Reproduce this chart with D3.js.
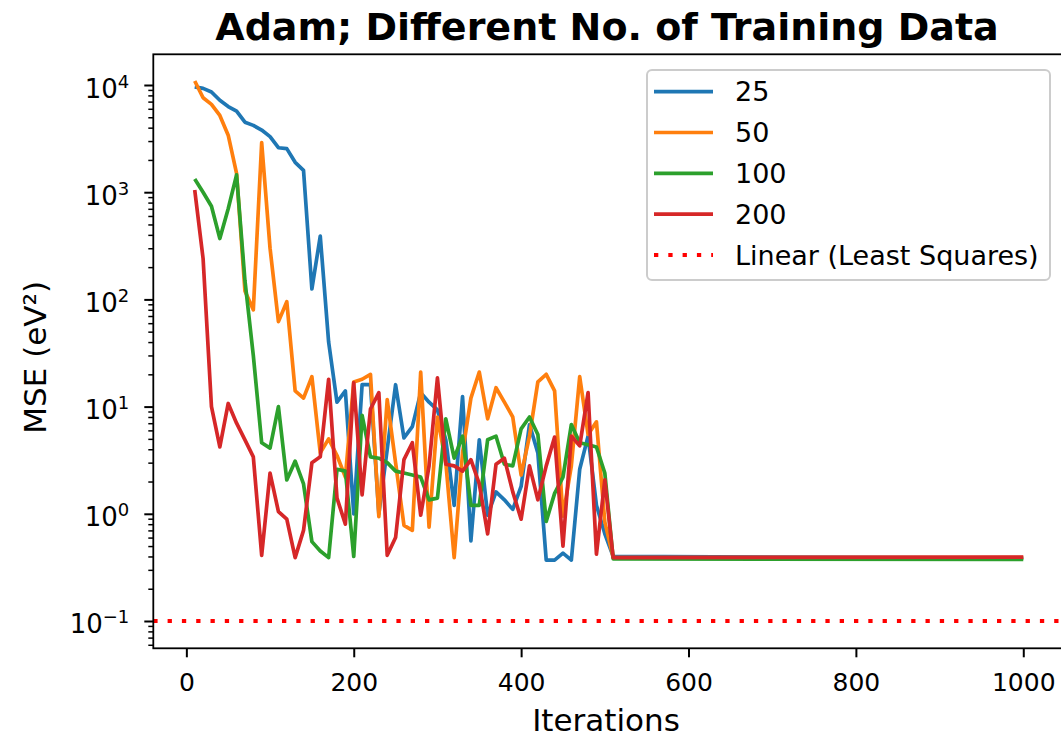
<!DOCTYPE html>
<html>
<head>
<meta charset="utf-8">
<script src="https://cdn.jsdelivr.net/npm/d3@7"></script>
<style>
  body { margin: 0; background: #fff; }
  text { font-family: "DejaVu Sans", sans-serif; fill: #000; }
</style>
</head>
<body>
<div id="chart"></div>
<script>
// iterations sampled every 10 steps; after 510 every run sits flat until 1000
const iterations = [10, 20, 30, 40, 50, 60, 70, 80, 90, 100, 110, 120, 130, 140, 150, 160, 170, 180, 190, 200,
    210, 220, 230, 240, 250, 260, 270, 280, 290, 300, 310, 320, 330, 340, 350, 360, 370, 380, 390, 400,
    410, 420, 430, 440, 450, 460, 470, 480, 490, 500, 510, 1000];

const mse25 = [9600, 9300, 8600, 7200, 6300, 5700, 4500, 4200, 3800, 3300, 2600, 2550, 1900, 1600, 125, 390, 40, 11, 14, 1.0,
    16, 16, 1.0, 4, 16, 5.1, 6.5, 13.5, 11, 9.3, 4.9, 1.2, 12.4, 0.56, 4.9, 0.97, 1.6, 1.35, 1.1, 1.8,
    6.8, 3.7, 0.37, 0.37, 0.43, 0.37, 2.6, 5.3, 1.2, 0.65, 0.4, 0.385];

const mse50 = [10900, 7600, 6600, 5200, 3400, 1500, 120, 80, 2900, 300, 62, 95, 14, 12, 19, 3.7, 5, 3.5, 2.2, 17,
    18, 20, 0.94, 11.6, 3, 0.78, 0.7, 21, 0.75, 8, 3, 0.39, 3.7, 12, 21, 7.7, 15, 11, 8, 2.3,
    5.3, 17, 20, 14, 0.95, 2.8, 19, 5.5, 7.2, 0.84, 0.39, 0.39];

const mse100 = [1330, 1000, 740, 370, 700, 1450, 150, 30, 4.6, 4.1, 10, 2.07, 3.1, 1.9, 0.55, 0.45, 0.39, 2.6, 2.5, 0.4,
    8.3, 3.4, 3.3, 3.0, 2.5, 2.4, 2.3, 2.2, 1.35, 1.4, 7.7, 3.3, 5.3, 1.2, 1.2, 4.9, 5.3, 2.9, 2.8, 6.2,
    8, 5.5, 0.85, 1.55, 2.2, 6.8, 4.6, 4.4, 4.2, 2.4, 0.38, 0.375];

const mse200 = [1050, 240, 10, 4.2, 10.7, 7, 4.9, 3.4, 0.41, 2.4, 1.05, 0.89, 0.39, 0.7, 3.0, 3.4, 18, 1.4, 0.8, 16.7,
    1.5, 9.5, 13.5, 0.41, 0.6, 3.2, 4.6, 0.97, 2.8, 18.5, 2.9, 2.8, 2.5, 3.2, 1.9, 0.65, 2.9, 3.3, 1.6, 0.89,
    2.8, 1.35, 2.8, 5.2, 0.5, 5.3, 4.3, 13.5, 0.42, 2.07, 0.39, 0.395];

const seriesLabels = ["25", "50", "100", "200"];
const seriesColours = ["#1f77b4", "#ff7f0e", "#2ca02c", "#d62728"];
const leastSquaresMse = 0.1;
const leastSquaresLabel = "Linear (Least Squares)";

const xTicks = [0, 200, 400, 600, 800, 1000];
const yTicks = [1e-1, 1e0, 1e1, 1e2, 1e3, 1e4];
const yTickExponents = ["\u22121", "0", "1", "2", "3", "4"];

const series = [mse25, mse50, mse100, mse200];

const width = 1061, height = 740;
const plot = { left: 153.3, right: 1064.7, top: 54.3, bottom: 648.3 };

const svg = d3.select("#chart").append("svg")
    .attr("width", width)
    .attr("height", height)
    .style("background", "#fff");

const x = d3.scaleLinear()
    .domain([-39.5, 1049.5])
    .range([plot.left, plot.right]);

const y = d3.scaleLog()
    .domain([Math.pow(10, -1.2547), Math.pow(10, 4.2864)])
    .range([plot.bottom, plot.top]);

svg.append("clipPath")
    .attr("id", "plot-clip")
    .append("rect")
    .attr("x", plot.left)
    .attr("y", plot.top)
    .attr("width", plot.right - plot.left)
    .attr("height", plot.bottom - plot.top);

const plotArea = svg.append("g").attr("clip-path", "url(#plot-clip)");

const line = d3.line()
    .x((d, i) => x(iterations[i]))
    .y(d => y(d));

series.forEach((values, i) => {
    plotArea.append("path")
        .datum(values)
        .attr("d", line)
        .attr("fill", "none")
        .attr("stroke", seriesColours[i])
        .attr("stroke-width", 3.7)
        .attr("stroke-linejoin", "round");
});

plotArea.append("line")
    .attr("x1", plot.left)
    .attr("x2", plot.right)
    .attr("y1", y(leastSquaresMse))
    .attr("y2", y(leastSquaresMse))
    .attr("stroke", "#ff0000")
    .attr("stroke-width", 4)
    .attr("stroke-dasharray", "4.3 10");

// x axis
const xAxisGroup = svg.append("g")
    .attr("transform", `translate(0,${plot.bottom})`)
    .call(d3.axisBottom(x).tickValues(xTicks).tickFormat(d3.format("d")).tickSize(9).tickPadding(16));

xAxisGroup.select(".domain").remove();
xAxisGroup.selectAll(".tick line").attr("stroke", "#000").attr("stroke-width", 2);
xAxisGroup.selectAll("text")
    .attr("fill", "#000")
    .style("font-size", "25px")
    .style("font-family", "DejaVu Sans");

// y axis, minor ticks first
const minorTicks = y.ticks().filter(v => !yTicks.some(t => Math.abs(Math.log10(v) - Math.log10(t)) < 1e-6));

const yMinorGroup = svg.append("g")
    .attr("transform", `translate(${plot.left},0)`)
    .call(d3.axisLeft(y).tickValues(minorTicks).tickSize(5).tickFormat(""));

yMinorGroup.select(".domain").remove();
yMinorGroup.selectAll(".tick line").attr("stroke", "#000").attr("stroke-width", 1.5);

const yAxisGroup = svg.append("g")
    .attr("transform", `translate(${plot.left},0)`)
    .call(d3.axisLeft(y).tickValues(yTicks).tickSize(9).tickFormat(""));

yAxisGroup.select(".domain").remove();
yAxisGroup.selectAll(".tick line").attr("stroke", "#000").attr("stroke-width", 2);

yAxisGroup.selectAll(".tick text").each(function(d, i) {
    const t = d3.select(this)
        .attr("x", -24)
        .attr("y", 12)
        .attr("dy", null)
        .attr("text-anchor", "end")
        .attr("fill", "#000")
        .style("font-size", "26px")
        .style("font-family", "DejaVu Sans");
    t.append("tspan").text("10");
    t.append("tspan")
        .attr("dy", -10)
        .style("font-size", "18px")
        .text(yTickExponents[i]);
});

// frame
svg.append("rect")
    .attr("x", plot.left)
    .attr("y", plot.top)
    .attr("width", plot.right - plot.left)
    .attr("height", plot.bottom - plot.top)
    .attr("fill", "none")
    .attr("stroke", "#000")
    .attr("stroke-width", 1.8);

// titles
svg.append("text")
    .attr("x", 607)
    .attr("y", 40)
    .attr("text-anchor", "middle")
    .style("font-size", "38px")
    .style("font-weight", "bold")
    .text("Adam; Different No. of Training Data");

svg.append("text")
    .attr("x", 606)
    .attr("y", 731)
    .attr("text-anchor", "middle")
    .style("font-size", "31px")
    .text("Iterations");

svg.append("text")
    .attr("transform", `translate(46,${(plot.top + plot.bottom) / 2 + 6}) rotate(-90)`)
    .attr("text-anchor", "middle")
    .style("font-size", "31px")
    .text("MSE (eV\u00b2)");

// legend
const legend = svg.append("g");

legend.append("rect")
    .attr("x", 647)
    .attr("y", 70)
    .attr("width", 403)
    .attr("height", 210)
    .attr("rx", 5)
    .attr("fill", "#fff")
    .attr("fill-opacity", 0.8)
    .attr("stroke", "#cccccc")
    .attr("stroke-width", 2);

const legendItems = seriesLabels.map((label, i) => ({ label, colour: seriesColours[i], dotted: false }))
    .concat([{ label: leastSquaresLabel, colour: "#ff0000", dotted: true }]);

legendItems.forEach((item, i) => {
    const rowY = 91.7 + i * 40.8;

    legend.append("line")
        .attr("x1", 654)
        .attr("x2", 713)
        .attr("y1", rowY)
        .attr("y2", rowY)
        .attr("stroke", item.colour)
        .attr("stroke-width", item.dotted ? 4 : 3.7)
        .attr("stroke-dasharray", item.dotted ? "4.3 10" : null);

    legend.append("text")
        .attr("x", 735)
        .attr("y", rowY)
        .attr("dy", "0.36em")
        .style("font-size", "27px")
        .text(item.label);
});
</script>
</body>
</html>
